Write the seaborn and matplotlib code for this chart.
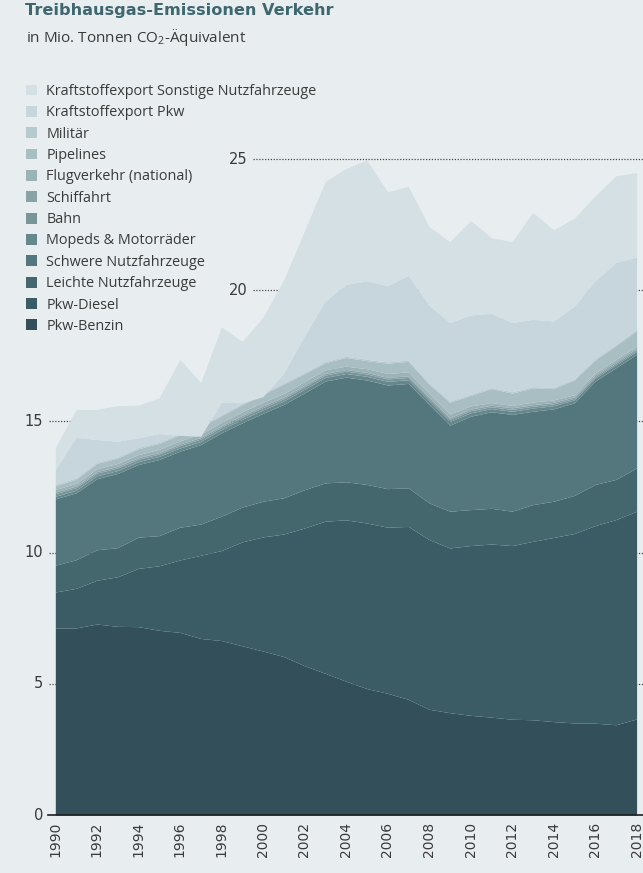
import matplotlib
matplotlib.use("Agg")
import matplotlib.pyplot as plt
import seaborn as sns
from matplotlib.patches import Patch

# ---------------- data (Mio. t CO2-Äquivalent) ----------------
years = list(range(1990, 2019))

pkw_benzin = [7.13, 7.13, 7.28, 7.19, 7.18, 7.04, 6.96, 6.73, 6.65, 6.45,
              6.25, 6.04, 5.69, 5.40, 5.10, 4.82, 4.64, 4.41, 4.03, 3.90,
              3.80, 3.73, 3.65, 3.63, 3.56, 3.51, 3.50, 3.44, 3.66]
pkw_diesel = [1.37, 1.51, 1.67, 1.89, 2.22, 2.46, 2.76, 3.17, 3.43, 3.96,
              4.35, 4.67, 5.25, 5.80, 6.15, 6.31, 6.33, 6.59, 6.47, 6.28,
              6.47, 6.60, 6.62, 6.80, 7.02, 7.22, 7.53, 7.82, 7.92]
leichte_nfz = [1.02, 1.09, 1.16, 1.11, 1.19, 1.15, 1.25, 1.19, 1.31, 1.33,
               1.36, 1.38, 1.46, 1.46, 1.45, 1.47, 1.47, 1.47, 1.40, 1.40,
               1.37, 1.36, 1.31, 1.40, 1.38, 1.45, 1.57, 1.53, 1.65]
schwere_nfz = [2.53, 2.55, 2.71, 2.83, 2.77, 2.90, 2.90, 3.03, 3.18, 3.21,
               3.35, 3.56, 3.69, 3.88, 3.99, 3.98, 3.95, 3.98, 3.75, 3.28,
               3.56, 3.68, 3.69, 3.56, 3.52, 3.53, 3.94, 4.26, 4.33]
mopeds = [0.10, 0.10, 0.11, 0.11, 0.11, 0.12, 0.12, 0.12, 0.12, 0.13,
          0.13, 0.13, 0.14, 0.14, 0.14, 0.14, 0.14, 0.14, 0.14, 0.14,
          0.13, 0.12, 0.12, 0.12, 0.12, 0.11, 0.11, 0.11, 0.11]
bahn = [0.10, 0.10, 0.10, 0.10, 0.09, 0.09, 0.09, 0.09, 0.09, 0.09,
        0.09, 0.09, 0.09, 0.09, 0.09, 0.09, 0.09, 0.09, 0.08, 0.08,
        0.08, 0.07, 0.07, 0.07, 0.07, 0.06, 0.06, 0.06, 0.06]
schiffahrt = [0.06, 0.06, 0.06, 0.06, 0.06, 0.06, 0.06, 0.06, 0.06, 0.06,
              0.06, 0.06, 0.06, 0.06, 0.06, 0.06, 0.06, 0.06, 0.06, 0.06,
              0.06, 0.06, 0.06, 0.06, 0.06, 0.06, 0.06, 0.06, 0.06]
flugverkehr = [0.10, 0.10, 0.11, 0.11, 0.12, 0.12, 0.12, 0.13, 0.13, 0.14,
               0.14, 0.14, 0.14, 0.14, 0.13, 0.14, 0.15, 0.15, 0.15, 0.14,
               0.12, 0.10, 0.09, 0.10, 0.09, 0.08, 0.08, 0.09, 0.08]
pipelines = [0.14, 0.16, 0.20, 0.20, 0.22, 0.22, 0.24, 0.25, 0.25, 0.27,
             0.30, 0.35, 0.30, 0.27, 0.33, 0.31, 0.39, 0.40, 0.34, 0.45,
             0.40, 0.53, 0.47, 0.54, 0.43, 0.56, 0.49, 0.52, 0.59]
militaer = [0.05, 0.05, 0.05, 0.05, 0.05, 0.05, 0.05, 0.05, 0.05, 0.05,
            0.05, 0.05, 0.05, 0.05, 0.05, 0.05, 0.05, 0.05, 0.05, 0.05,
            0.05, 0.05, 0.05, 0.05, 0.05, 0.05, 0.05, 0.05, 0.05]
export_pkw = [0.57, 1.55, 0.86, 0.60, 0.37, 0.33, -0.08, -0.38, 0.47, 0.02,
              -0.13, 0.38, 1.39, 2.30, 2.74, 2.99, 2.90, 3.23, 2.96, 2.99,
              3.02, 2.82, 2.64, 2.56, 2.53, 2.77, 2.97, 3.12, 2.76]
export_sonstige = [0.83, 1.06, 1.15, 1.36, 1.24, 1.36, 2.90, 2.04, 2.86, 2.34,
                   3.02, 3.55, 4.00, 4.56, 4.41, 4.61, 3.58, 3.39, 3.00, 3.08,
                   3.60, 2.89, 3.08, 4.08, 3.47, 3.35, 3.24, 3.30, 3.22]

categories = ["Pkw-Benzin", "Pkw-Diesel", "Leichte Nutzfahrzeuge",
              "Schwere Nutzfahrzeuge", "Mopeds & Motorräder", "Bahn",
              "Schiffahrt", "Flugverkehr (national)", "Pipelines", "Militär",
              "Kraftstoffexport Pkw", "Kraftstoffexport Sonstige Nutzfahrzeuge"]
series = [pkw_benzin, pkw_diesel, leichte_nfz, schwere_nfz, mopeds, bahn,
          schiffahrt, flugverkehr, pipelines, militaer, export_pkw,
          export_sonstige]
layer_colors = ["#33505a", "#3b5c64", "#44676e", "#53777d", "#66888d",
                "#789599", "#89a2a7", "#9bb2b6", "#a9bec3", "#b7cad0",
                "#c6d6dc", "#d4e0e4"]

y_ticks_low = [0, 5, 10, 15]
y_ticks_high = [20, 25]
x_ticks = list(range(1990, 2019, 2))

title = "Treibhausgas-Emissionen Verkehr"
subtitle = "in Mio. Tonnen CO$_2$-Äquivalent"

# ---------------- style ----------------
BG = "#e8edf0"
TEXT = "#3a3a3a"
TITLE_C = "#3f6770"
sns.set_theme(style="white", rc={"figure.facecolor": BG, "axes.facecolor": BG,
                                 "savefig.facecolor": BG})
plt.rcParams["font.family"] = ["Open Sans", "DejaVu Sans"]
plt.rcParams["mathtext.default"] = "regular"
COND = ["Liberation Sans Narrow", "DejaVu Sans"]

W, H = 643, 873
fig = plt.figure(figsize=(W / 100, H / 100), dpi=100)
ax = fig.add_axes([48 / W, 58 / H, 595 / W, 669 / H])
ax.set_facecolor(BG)

pal = sns.color_palette(layer_colors)
ax.stackplot(years, *series, colors=pal, labels=categories,
             linewidth=0, zorder=2)

ax.set_xlim(1989.648, 2018.309)
ax.set_ylim(0, 25.5)

# dotted gridlines behind the areas
for yv in y_ticks_low[1:]:
    ax.axhline(yv, xmin=0.002, xmax=1, color="#4a4a4a", lw=0.9,
               ls=(0, (1, 1.3)), zorder=1)
for yv in y_ticks_high:
    ax.axhline(yv, xmin=0.345, xmax=1, color="#4a4a4a", lw=0.9,
               ls=(0, (1, 1.3)), zorder=1)

# y labels
ytr = ax.get_yaxis_transform()
for yv in y_ticks_low:
    ax.text(-0.008, yv, str(yv), transform=ytr, ha="right", va="center",
            fontsize=10.5, color=TEXT, family=COND)
for yv in y_ticks_high:
    ax.text(0.336, yv, str(yv), transform=ytr, ha="right", va="center",
            fontsize=10.5, color=TEXT, family=COND)
ax.set_yticks([])

ax.set_xticks(x_ticks)
ax.set_xticklabels([str(x) for x in x_ticks], rotation=90, fontsize=10,
                   color=TEXT, family=COND)
ax.tick_params(axis="x", length=0, pad=5)

for s in ["top", "right", "left"]:
    ax.spines[s].set_visible(False)
ax.spines["bottom"].set_color("#1e1e1e")
ax.spines["bottom"].set_linewidth(1.2)
ax.spines["bottom"].set_zorder(3)

# legend (top layer first)
handles = [Patch(facecolor=c, edgecolor="none") for c in layer_colors][::-1]
leg = ax.legend(handles, categories[::-1], loc="upper left",
                bbox_to_anchor=(26 / W, 1 - 84 / H), bbox_transform=fig.transFigure,
                frameon=False, fontsize=10.4, handlelength=0.78, handleheight=0.78,
                handletextpad=0.62, labelspacing=0.44, borderpad=0,
                borderaxespad=0)
for t in leg.get_texts():
    t.set_color(TEXT)

fig.text(25 / W, 1 - 15 / H, title, fontsize=11.6, fontweight="bold",
         color=TITLE_C, family=COND, va="baseline", ha="left")
fig.text(26 / W, 1 - 42 / H, subtitle, fontsize=11, color=TEXT,
         va="baseline", ha="left")

fig.savefig("out.png", dpi=100, facecolor=BG)
